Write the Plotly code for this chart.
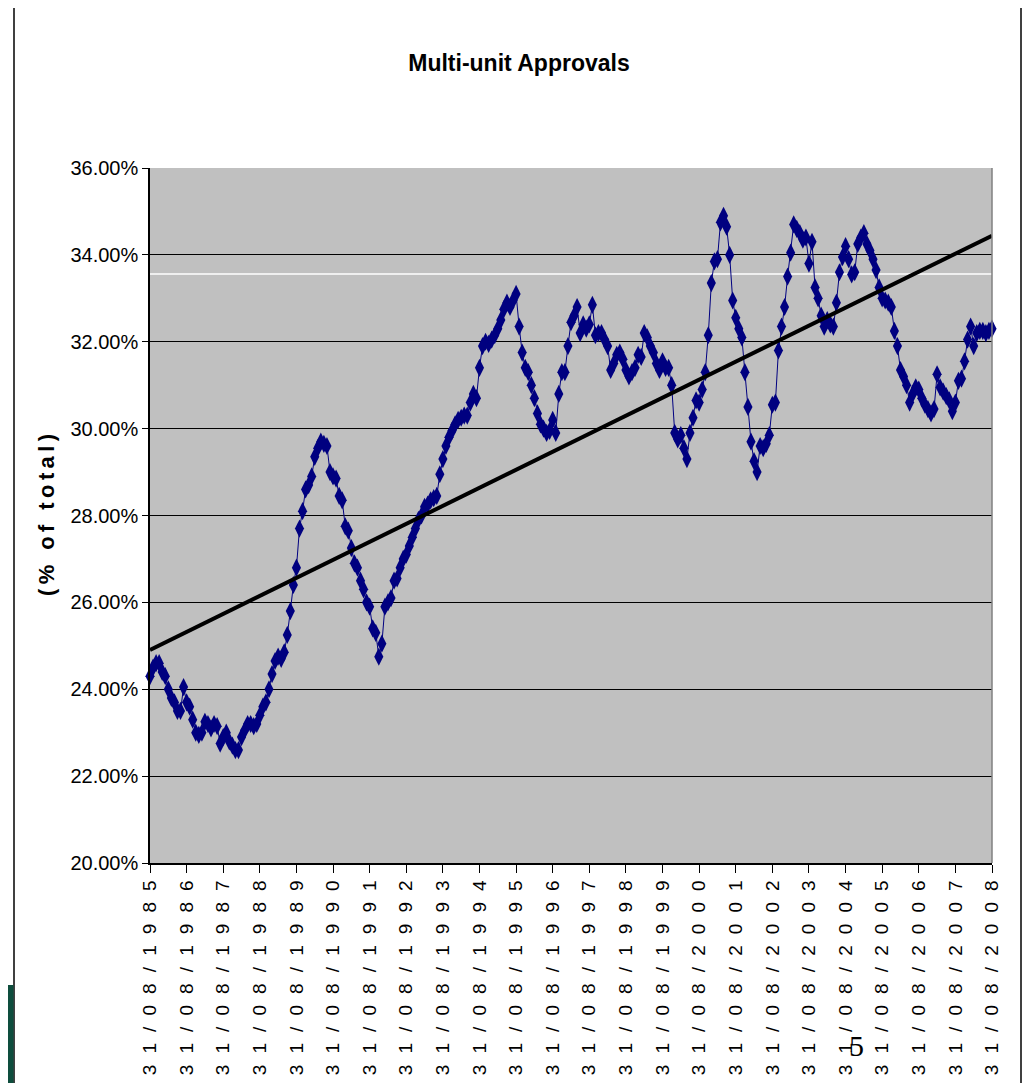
import calendar
import numpy as np
import plotly.graph_objects as go

# Monthly share of multi-unit approvals (% of total), Aug 1985 .. Aug 2008
approvals_pct = [
    24.3, 24.5, 24.6, 24.6, 24.4, 24.3, 24.0, 23.8, 23.7, 23.5, 23.5, 24.05,
    23.7, 23.6, 23.3, 23.0, 22.95, 23.0, 23.25, 23.2, 23.1, 23.2, 23.15, 22.75,
    22.9, 23.0, 22.8, 22.7, 22.6, 22.6, 22.9, 23.05, 23.2, 23.2, 23.15, 23.2,
    23.4, 23.6, 23.7, 24.0, 24.35, 24.65, 24.75, 24.7, 24.85, 25.25, 25.8, 26.4,
    26.8, 27.7, 28.1, 28.6, 28.7, 28.9, 29.35, 29.55, 29.7, 29.65, 29.6, 29.0,
    28.9, 28.85, 28.45, 28.35, 27.75, 27.65, 27.25, 26.9, 26.8, 26.5, 26.3, 26.0,
    25.9, 25.4, 25.3, 24.75, 25.05, 25.9, 26.0, 26.1, 26.5, 26.55, 26.8, 27.0,
    27.1, 27.3, 27.5, 27.7, 27.9, 28.0, 28.2, 28.25, 28.35, 28.4, 28.45, 28.95,
    29.3, 29.6, 29.8, 29.95, 30.1, 30.2, 30.25, 30.3, 30.3, 30.6, 30.8, 30.7,
    31.4, 31.9, 32.0, 31.95, 32.05, 32.15, 32.3, 32.5, 32.75, 32.9, 32.8, 32.95,
    33.1, 32.35, 31.75, 31.4, 31.3, 31.0, 30.7, 30.35, 30.1, 30.0, 29.9, 29.95,
    30.2, 29.9, 30.8, 31.3, 31.3, 31.9, 32.45, 32.6, 32.8, 32.2, 32.4, 32.3,
    32.4, 32.85, 32.15, 32.2, 32.2, 32.05, 31.9, 31.35, 31.5, 31.7, 31.75, 31.6,
    31.35, 31.2, 31.3, 31.4, 31.7, 31.65, 32.2, 32.1, 31.9, 31.75, 31.5, 31.35,
    31.55, 31.4, 31.4, 31.0, 29.9, 29.75, 29.85, 29.55, 29.3, 29.9, 30.25, 30.65,
    30.6, 30.9, 31.3, 32.15, 33.35, 33.85, 33.9, 34.75, 34.9, 34.65, 34.0, 32.95,
    32.55, 32.3, 32.1, 31.3, 30.5, 29.7, 29.25, 29.0, 29.6, 29.55, 29.65, 29.85,
    30.55, 30.6, 31.8, 32.35, 32.8, 33.5, 34.05, 34.7, 34.6, 34.5, 34.35, 34.4,
    33.8, 34.3, 33.25, 33.0, 32.6, 32.35, 32.5, 32.4, 32.35, 32.9, 33.6, 33.95,
    34.2, 33.9, 33.55, 33.6, 34.25, 34.4, 34.5, 34.25, 34.1, 33.9, 33.65, 33.25,
    33.0, 32.95, 32.9, 32.8, 32.25, 31.9, 31.35, 31.2, 31.0, 30.6, 30.8, 30.95,
    30.9, 30.7, 30.55, 30.45, 30.35, 30.45, 31.25, 30.95, 30.85, 30.75, 30.65, 30.4,
    30.6, 31.1, 31.15, 31.55, 32.05, 32.35, 31.9, 32.2, 32.25, 32.25, 32.2, 32.25,
    32.3,
]

start_year, start_month = 1985, 8
y_ticks = [20, 22, 24, 26, 28, 30, 32, 34, 36]
title_text = "Multi-unit Approvals"
y_title_text = "(% of total)"

# month-end date categories
categories = []
for i in range(len(approvals_pct)):
    mm = (start_month - 1 + i) % 12 + 1
    yy = start_year + (start_month - 1 + i) // 12
    dd = calendar.monthrange(yy, mm)[1]
    categories.append(f"{dd:02d}/{mm:02d}/{yy}")

tick_cats = categories[::12]
SP = "\u2002\u200a"
tick_text = [SP.join(list(c)) for c in tick_cats]

# linear trend (least squares)
idx = np.arange(len(approvals_pct))
slope, intercept = np.polyfit(idx, np.array(approvals_pct), 1)
trend = (slope * idx + intercept).tolist()

# page is rendered with an 8px body margin; figure sized to fill the rest
OFF = 8
PAGE_W, PAGE_H = 1030, 1083
W, H = PAGE_W - OFF, PAGE_H - OFF
L, R, T, B = 150, 992, 168, 863  # plot area in page pixels


def px(x):
    return (x - L) / (R - L)


def py(y):
    return (B - y) / (B - T)


fig = go.Figure()
fig.add_trace(go.Scatter(
    x=categories, y=approvals_pct, mode="lines+markers",
    line=dict(color="#000080", width=1),
    marker=dict(symbol="diamond-tall", size=13, color="#000080"),
    showlegend=False, cliponaxis=False,
))
fig.add_trace(go.Scatter(
    x=categories, y=trend, mode="lines",
    line=dict(color="#000000", width=4),
    showlegend=False,
))

shapes = [
    dict(type="line", xref="paper", yref="paper", x0=0, x1=1, y0=py(274), y1=py(274),
         line=dict(color="#ffffff", width=1.5), layer="below"),
    dict(type="line", xref="paper", yref="paper", x0=1, x1=1, y0=0, y1=1,
         line=dict(color="#808080", width=1.5)),
    dict(type="line", xref="paper", yref="paper", x0=px(14), x1=px(14), y0=py(0), y1=py(1083),
         line=dict(color="#000000", width=1.5)),
    dict(type="line", xref="paper", yref="paper", x0=px(1021), x1=px(1021), y0=py(0), y1=py(1083),
         line=dict(color="#000000", width=1.5)),
    dict(type="rect", xref="paper", yref="paper", x0=px(0), x1=px(13.5), y0=py(1083), y1=py(985),
         fillcolor="#0e4d3d", line=dict(width=0)),
    dict(type="rect", xref="paper", yref="paper", x0=px(1022), x1=px(1030), y0=py(1083), y1=py(948),
         fillcolor="#0e4d3d", line=dict(width=0)),
]

ytitle = "\u2009".join(list(y_title_text))
annotations = [
    dict(text="<b>" + ytitle + "</b>",
         xref="paper", yref="paper", x=px(46), y=py(515), showarrow=False, textangle=-90,
         font=dict(family="Liberation Sans, Arial", size=22, color="#000000"),
         xanchor="center", yanchor="middle"),
    dict(text="5", xref="paper", yref="paper", x=px(856), y=py(1045), showarrow=False,
         font=dict(family="Liberation Serif, Times New Roman, serif", size=30, color="#000000"),
         xanchor="center", yanchor="middle"),
]

fig.update_layout(
    width=W, height=H, autosize=False,
    margin=dict(l=L - OFF, r=PAGE_W - R, t=T - OFF, b=PAGE_H - B),
    paper_bgcolor="#ffffff",
    plot_bgcolor="#c0c0c0",
    title=dict(text="<b>" + title_text + "</b>", xref="container", yref="container",
               x=(519 - OFF) / W, y=1 - (63 - OFF) / H, xanchor="center", yanchor="middle",
               font=dict(family="Liberation Sans, Arial", size=23, color="#000000")),
    xaxis=dict(
        type="category", range=[0, len(categories) - 1], automargin=False,
        tickmode="array", tickvals=tick_cats, ticktext=tick_text, tickangle=-90,
        ticks="outside", ticklen=8, tickcolor="#000000", tickwidth=1,
        showgrid=False, zeroline=False,
        showline=True, linecolor="#000000", linewidth=1.5,
        tickfont=dict(family="Liberation Sans, Arial", size=19, color="#000000"),
    ),
    yaxis=dict(
        range=[20, 36], tickmode="array", tickvals=y_ticks, automargin=False,
        ticktext=[f"{v:.2f}%" for v in y_ticks],
        ticks="outside", ticklen=6, tickcolor="#000000",
        showgrid=True, gridcolor="#000000", gridwidth=1,
        zeroline=False, showline=True, linecolor="#000000", linewidth=1.5,
        tickfont=dict(family="Liberation Sans, Arial", size=20, color="#000000"),
    ),
    shapes=shapes,
    annotations=annotations,
)

fig.write_html("out.html", config={"displayModeBar": False, "responsive": False})
